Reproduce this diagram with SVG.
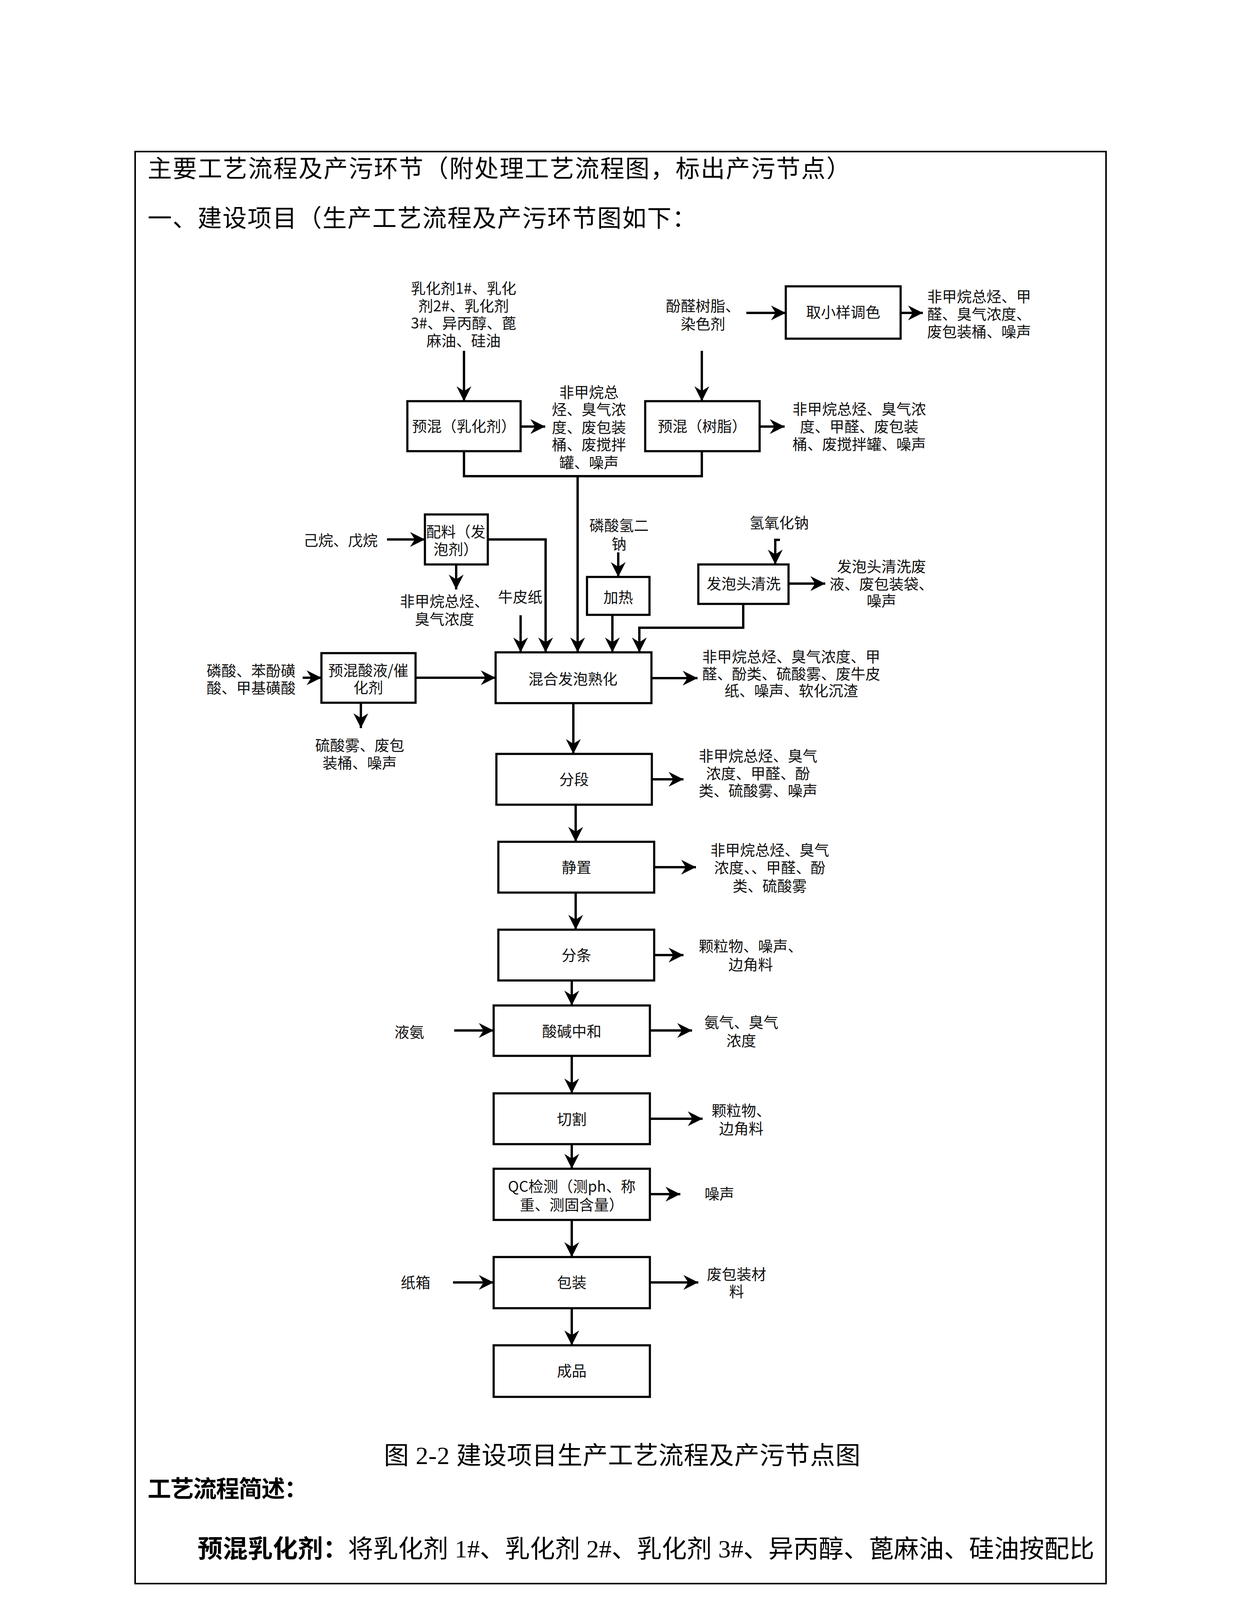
<svg xmlns="http://www.w3.org/2000/svg" width="3175" height="4490" viewBox="0 0 3175 4490">
<defs>
<style>
.page{font-family:"Liberation Serif","Noto Sans CJK SC",serif;fill:#000;}
.box{fill:#fff;stroke:#000;stroke-width:5.5;}
.t{font-family:"Noto Sans CJK SC","Noto Sans",sans-serif;font-size:38px;fill:#111;text-anchor:middle;}
.c{fill:none;stroke:#000;stroke-width:6;}
.a{marker-end:url(#ah);}
</style>
<marker id="ah" markerUnits="userSpaceOnUse" markerWidth="40" markerHeight="40" viewBox="0 0 40 40" refX="38" refY="19" orient="auto">
<path d="M0,0 L38,19 L0,38 L12,19 Z" fill="#000"/>
</marker>
</defs>
<rect x="0" y="0" width="3175" height="4490" fill="#fff"/>
<g id="frame">
<rect x="346" y="388" width="2486" height="3666" fill="none" stroke="#000" stroke-width="4"/>
<text class="page" x="378" y="454" font-size="62" textLength="1800" lengthAdjust="spacing">主要工艺流程及产污环节（附处理工艺流程图，标出产污节点）</text>
<text class="page" x="378" y="581" font-size="62" textLength="1405" lengthAdjust="spacing">一、建设项目（生产工艺流程及产污环节图如下：</text>
<text class="page" x="983" y="3748" font-size="64" textLength="1220" lengthAdjust="spacing">图 2-2 建设项目生产工艺流程及产污节点图</text>
<text class="page" x="378" y="3833" font-size="60" font-weight="bold" textLength="410" lengthAdjust="spacing">工艺流程简述：</text>
<text class="page" x="506" y="3987" font-size="64" textLength="2296" lengthAdjust="spacing"><tspan font-weight="bold">预混乳化剂：</tspan>将乳化剂 1#、乳化剂 2#、乳化剂 3#、异丙醇、蓖麻油、硅油按配比</text>
<text class="page" x="1587" y="4203" font-size="50" text-anchor="middle">14</text>
</g>
<g id="connectors">
<path class="c a" d="M1188,898 V1027"/>
<path class="c a" d="M1333,1092 H1396"/>
<path class="c a" d="M1797,898 V1027"/>
<path class="c a" d="M1945,1092 H2009"/>
<path class="c a" d="M1911,801 H2012"/>
<path class="c a" d="M2306,801 H2363"/>
<path class="c" d="M1188,1155 V1219 H1797 V1155"/>
<path class="c a" d="M1479,1219 V1670"/>
<path class="c a" d="M991,1381 H1088"/>
<path class="c a" d="M1168,1445 V1509"/>
<path class="c a" d="M1249,1381 H1397 V1670"/>
<path class="c a" d="M1333,1575 V1670"/>
<path class="c a" d="M1583,1414 V1477"/>
<path class="c a" d="M1568,1574 V1670"/>
<path class="c a" d="M1997,1382 H1985 V1445"/>
<path class="c a" d="M2019,1494 H2113"/>
<path class="c a" d="M1903,1546 V1607 H1637 V1670"/>
<path class="c a" d="M1668,1736 H1786"/>
<path class="c a" d="M775,1735 H823"/>
<path class="c a" d="M1064,1735 H1269"/>
<path class="c a" d="M924,1799 V1864"/>
<path class="c a" d="M1468,1800 V1930"/>
<path class="c a" d="M1669,1995 H1750"/>
<path class="c a" d="M1474,2060 V2155"/>
<path class="c a" d="M1675,2220 H1782"/>
<path class="c a" d="M1474,2285 V2380"/>
<path class="c a" d="M1675,2445 H1750"/>
<path class="c a" d="M1464,2510 V2574"/>
<path class="c a" d="M1163,2638 H1264"/>
<path class="c a" d="M1664,2638 H1772"/>
<path class="c a" d="M1464,2703 V2799"/>
<path class="c a" d="M1664,2864 H1799"/>
<path class="c a" d="M1464,2929 V2992"/>
<path class="c a" d="M1664,3057 H1742"/>
<path class="c a" d="M1464,3123 V3218"/>
<path class="c a" d="M1160,3283 H1264"/>
<path class="c a" d="M1664,3283 H1788"/>
<path class="c a" d="M1464,3349 V3444"/>
</g>
<g id="n_input_emul"><text class="t"><tspan x="1187" y="752">乳化剂1#、乳化</tspan><tspan x="1187" y="797">剂2#、乳化剂</tspan><tspan x="1187" y="841">3#、异丙醇、蓖</tspan><tspan x="1187" y="886">麻油、硅油</tspan></text></g>
<g id="n_premix_emul"><rect class="box" x="1043" y="1027" width="290" height="128"/><text class="t" x="1188" y="1105">预混（乳化剂）</text></g>
<g id="n_out_emul"><text class="t"><tspan x="1508" y="1018">非甲烷总</tspan><tspan x="1508" y="1062">烃、臭气浓</tspan><tspan x="1508" y="1108">度、废包装</tspan><tspan x="1508" y="1152">桶、废搅拌</tspan><tspan x="1508" y="1198">罐、噪声</tspan></text></g>
<g id="n_input_resin"><text class="t"><tspan x="1800" y="797">酚醛树脂、</tspan><tspan x="1800" y="843">染色剂</tspan></text></g>
<g id="n_sample"><rect class="box" x="2012" y="733" width="294" height="134"/><text class="t" x="2159" y="813">取小样调色</text></g>
<g id="n_out_sample"><text class="t"><tspan x="2507" y="773">非甲烷总烃、甲</tspan><tspan x="2507" y="818">醛、臭气浓度、</tspan><tspan x="2507" y="863">废包装桶、噪声</tspan></text></g>
<g id="n_premix_resin"><rect class="box" x="1652" y="1027" width="293" height="128"/><text class="t" x="1798" y="1105">预混（树脂）</text></g>
<g id="n_out_resin"><text class="t"><tspan x="2200" y="1061">非甲烷总烃、臭气浓</tspan><tspan x="2200" y="1106">度、甲醛、废包装</tspan><tspan x="2200" y="1151">桶、废搅拌罐、噪声</tspan></text></g>
<g id="n_hexane"><text class="t" x="872" y="1397">己烷、戊烷</text></g>
<g id="n_foam"><rect class="box" x="1088" y="1317" width="161" height="128"/><text class="t"><tspan x="1167" y="1375">配料（发</tspan><tspan x="1167" y="1420">泡剂）</tspan></text></g>
<g id="n_out_foam"><text class="t"><tspan x="1138" y="1553">非甲烷总烃、</tspan><tspan x="1138" y="1599">臭气浓度</tspan></text></g>
<g id="n_kraft"><text class="t" x="1332" y="1542">牛皮纸</text></g>
<g id="n_phos"><text class="t"><tspan x="1585" y="1359">磷酸氢二</tspan><tspan x="1585" y="1406">钠</tspan></text></g>
<g id="n_heat"><rect class="box" x="1503" y="1477" width="160" height="97"/><text class="t" x="1583" y="1543">加热</text></g>
<g id="n_naoh"><text class="t" x="1995" y="1352">氢氧化钠</text></g>
<g id="n_clean"><rect class="box" x="1788" y="1445" width="231" height="101"/><text class="t" x="1904" y="1508">发泡头清洗</text></g>
<g id="n_out_clean"><text class="t"><tspan x="2257" y="1464">发泡头清洗废</tspan><tspan x="2257" y="1509">液、废包装袋、</tspan><tspan x="2257" y="1552">噪声</tspan></text></g>
<g id="n_acid_in"><text class="t"><tspan x="643" y="1731">磷酸、苯酚磺</tspan><tspan x="643" y="1775">酸、甲基磺酸</tspan></text></g>
<g id="n_acid"><rect class="box" x="823" y="1672" width="241" height="127"/><text class="t"><tspan x="943" y="1730">预混酸液/催</tspan><tspan x="943" y="1774">化剂</tspan></text></g>
<g id="n_out_acid"><text class="t"><tspan x="921" y="1922">硫酸雾、废包</tspan><tspan x="921" y="1967">装桶、噪声</tspan></text></g>
<g id="n_mix"><rect class="box" x="1269" y="1670" width="399" height="130"/><text class="t" x="1467" y="1752">混合发泡熟化</text></g>
<g id="n_out_mix"><text class="t"><tspan x="2026" y="1695">非甲烷总烃、臭气浓度、甲</tspan><tspan x="2026" y="1739">醛、酚类、硫酸雾、废牛皮</tspan><tspan x="2026" y="1782">纸、噪声、软化沉渣</tspan></text></g>
<g id="n_seg"><rect class="box" x="1271" y="1930" width="398" height="130"/><text class="t" x="1470" y="2009">分段</text></g>
<g id="n_out_seg"><text class="t"><tspan x="1941" y="1949">非甲烷总烃、臭气</tspan><tspan x="1941" y="1994">浓度、甲醛、酚</tspan><tspan x="1941" y="2038">类、硫酸雾、噪声</tspan></text></g>
<g id="n_rest"><rect class="box" x="1276" y="2155" width="399" height="130"/><text class="t" x="1476" y="2234">静置</text></g>
<g id="n_out_rest"><text class="t"><tspan x="1971" y="2190">非甲烷总烃、臭气</tspan><tspan x="1971" y="2235">浓度、、甲醛、酚</tspan><tspan x="1971" y="2282">类、硫酸雾</tspan></text></g>
<g id="n_strip"><rect class="box" x="1276" y="2380" width="399" height="130"/><text class="t" x="1476" y="2459">分条</text></g>
<g id="n_out_strip"><text class="t"><tspan x="1922" y="2436">颗粒物、噪声、</tspan><tspan x="1922" y="2483">边角料</tspan></text></g>
<g id="n_nh3"><text class="t" x="1048" y="2656">液氨</text></g>
<g id="n_neut"><rect class="box" x="1264" y="2574" width="400" height="129"/><text class="t" x="1464" y="2654">酸碱中和</text></g>
<g id="n_out_neut"><text class="t"><tspan x="1898" y="2631">氨气、臭气</tspan><tspan x="1898" y="2678">浓度</tspan></text></g>
<g id="n_cut"><rect class="box" x="1264" y="2799" width="400" height="130"/><text class="t" x="1464" y="2879">切割</text></g>
<g id="n_out_cut"><text class="t"><tspan x="1898" y="2857">颗粒物、</tspan><tspan x="1898" y="2903">边角料</tspan></text></g>
<g id="n_qc"><rect class="box" x="1264" y="2992" width="400" height="131"/><text class="t"><tspan x="1464" y="3051">QC检测（测ph、称</tspan><tspan x="1464" y="3098">重、测固含量）</tspan></text></g>
<g id="n_out_qc"><text class="t" x="1842" y="3070">噪声</text></g>
<g id="n_carton"><text class="t" x="1064" y="3297">纸箱</text></g>
<g id="n_pack"><rect class="box" x="1264" y="3218" width="400" height="131"/><text class="t" x="1464" y="3297">包装</text></g>
<g id="n_out_pack"><text class="t"><tspan x="1886" y="3276">废包装材</tspan><tspan x="1886" y="3320">料</tspan></text></g>
<g id="n_final"><rect class="box" x="1264" y="3444" width="400" height="132"/><text class="t" x="1464" y="3523">成品</text></g>
</svg>
